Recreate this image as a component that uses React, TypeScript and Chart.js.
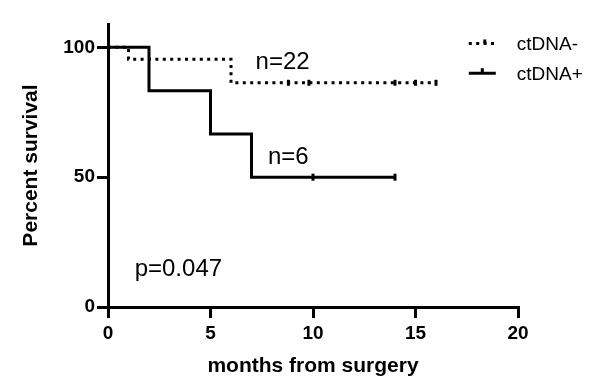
import React, { useEffect, useRef } from "react";
import { Chart, registerables } from "chart.js";

Chart.register(...registerables);

// Kaplan-Meier step data (months, percent survival)
const negTimes = [0, 1, 6, 16];
const negSurvival = [100, 95.45, 86.36, 86.36];
const negCensorTimes = [8.8, 9.8, 14, 15, 16];
const negCensorSurvival = [86.36, 86.36, 86.36, 86.36, 86.36];

const posTimes = [0, 2, 5, 7, 14];
const posSurvival = [100, 83.33, 66.67, 50, 50];
const posCensorTimes = [10, 14];
const posCensorSurvival = [50, 50];

const xTicks = [0, 5, 10, 15, 20];
const yTicks = [0, 50, 100];

const seriesLabels = ["ctDNA-", "ctDNA+"];
const annotations = ["n=22", "n=6", "p=0.047"];

const FONT = '"Liberation Sans", Arial, Helvetica, sans-serif';

export default function App() {
  const ref = useRef<HTMLCanvasElement | null>(null);

  useEffect(() => {
    document.body.style.margin = "0";
    const canvas = ref.current;
    if (!canvas) return;

    const textPlugin = {
      id: "kmText",
      afterDraw(chart: any) {
        const ctx = chart.ctx;
        const xs = chart.scales.x;
        const ys = chart.scales.y;
        ctx.save();
        ctx.fillStyle = "#000";
        ctx.textBaseline = "middle";
        ctx.textAlign = "left";
        ctx.font = `24px ${FONT}`;
        ctx.fillText(annotations[0], xs.getPixelForValue(7.2), ys.getPixelForValue(94.3));
        ctx.fillText(annotations[1], xs.getPixelForValue(7.8), ys.getPixelForValue(57.5));
        ctx.fillText(annotations[2], xs.getPixelForValue(1.3), ys.getPixelForValue(14.3));

        // legend
        const lx0 = xs.getPixelForValue(17.6);
        const lx1 = lx0 + 27;
        const ly0 = ys.getPixelForValue(101.5);
        const ly1 = ys.getPixelForValue(90.0);
        ctx.strokeStyle = "#000";
        ctx.lineWidth = 3;
        ctx.setLineDash([3, 4.4]);
        ctx.beginPath();
        ctx.moveTo(lx0, ly0);
        ctx.lineTo(lx1, ly0);
        ctx.stroke();
        ctx.setLineDash([]);
        ctx.beginPath();
        ctx.moveTo(lx0 + 16, ly0 - 4);
        ctx.lineTo(lx0 + 16, ly0);
        ctx.stroke();
        ctx.beginPath();
        ctx.moveTo(lx0, ly1);
        ctx.lineTo(lx1, ly1);
        ctx.moveTo(lx0 + 13.5, ly1 - 5);
        ctx.lineTo(lx0 + 13.5, ly1);
        ctx.stroke();
        ctx.font = `19px ${FONT}`;
        ctx.fillText(seriesLabels[0], lx1 + 21, ly0 + 1);
        ctx.fillText(seriesLabels[1], lx1 + 21, ly1 + 1);
        ctx.restore();
      },
    };

    const chart = new Chart(canvas, {
      type: "line",
      data: {
        datasets: [
          {
            label: seriesLabels[1],
            data: posTimes.map((t, i) => ({ x: t, y: posSurvival[i] })),
            borderColor: "#000",
            borderWidth: 3,
            stepped: "before",
            pointRadius: 0,
            fill: false,
          },
          {
            label: seriesLabels[1] + " censored",
            type: "scatter",
            data: posCensorTimes.map((t, i) => ({ x: t, y: posCensorSurvival[i] })),
            pointStyle: "line",
            rotation: 90,
            pointRadius: 3.5,
            borderColor: "#000",
            backgroundColor: "#000",
            borderWidth: 3,
            showLine: false,
          },
          {
            label: seriesLabels[0],
            data: negTimes.map((t, i) => ({ x: t, y: negSurvival[i] })),
            borderColor: "#000",
            borderWidth: 3,
            borderDash: [3, 4.4],
            stepped: "before",
            pointRadius: 0,
            fill: false,
          },
          {
            label: seriesLabels[0] + " censored",
            type: "scatter",
            data: negCensorTimes.map((t, i) => ({ x: t, y: negCensorSurvival[i] })),
            pointStyle: "line",
            rotation: 90,
            pointRadius: 3,
            borderColor: "#000",
            backgroundColor: "#000",
            borderWidth: 3,
            showLine: false,
          },
        ],
      },
      options: {
        animation: false,
        responsive: false,
        layout: { padding: { left: 8, right: 88, top: 24, bottom: 0 } },
        plugins: {
          legend: { display: false },
          tooltip: { enabled: false },
        },
        scales: {
          x: {
            type: "linear",
            min: 0,
            max: 20,
            afterBuildTicks: (s: any) => {
              s.ticks = xTicks.map((v) => ({ value: v }));
            },
            afterFit: (s: any) => {
              s.height = 83;
            },
            border: { display: true, color: "#000", width: 3 },
            grid: {
              display: true,
              drawOnChartArea: false,
              drawTicks: true,
              tickLength: 11,
              color: "#000",
              lineWidth: 3,
            },
            ticks: {
              color: "#000",
              padding: 4,
              maxRotation: 0,
              font: { family: FONT, size: 19, weight: "bold" },
            },
            title: {
              display: true,
              text: "months from surgery",
              color: "#000",
              font: { family: FONT, size: 21, weight: "bold" },
              padding: { top: 0, bottom: 11 },
            },
          },
          y: {
            type: "linear",
            min: 0,
            max: 109,
            afterBuildTicks: (s: any) => {
              s.ticks = yTicks.map((v) => ({ value: v }));
            },
            afterFit: (s: any) => {
              s.width = 100;
            },
            border: { display: true, color: "#000", width: 3 },
            grid: {
              display: true,
              drawOnChartArea: false,
              drawTicks: true,
              tickLength: 11,
              color: "#000",
              lineWidth: 3,
            },
            ticks: {
              color: "#000",
              padding: 2,
              font: { family: FONT, size: 19, weight: "bold" },
            },
            title: {
              display: true,
              text: "Percent survival",
              color: "#000",
              font: { family: FONT, size: 21, weight: "bold" },
              padding: { top: 11, bottom: 0 },
            },
          },
        },
      },
      plugins: [textPlugin],
    } as any);

    return () => chart.destroy();
  }, []);

  return (
    <div style={{ width: 606, height: 390, position: "relative" }}>
      <canvas ref={ref} width={606} height={390} style={{ width: 606, height: 390, display: "block" }} />
    </div>
  );
}
